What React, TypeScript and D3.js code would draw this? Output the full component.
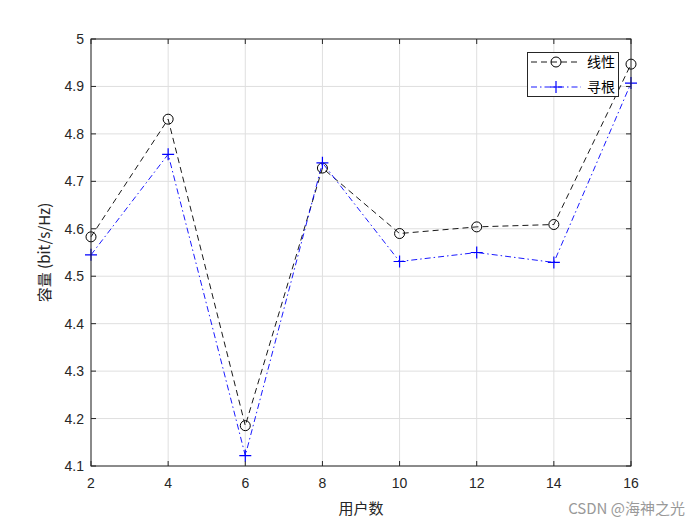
import React from "react";
import * as d3 from "d3";

const users = [2, 4, 6, 8, 10, 12, 14, 16];
const linearCap = [4.583, 4.831, 4.185, 4.728, 4.590, 4.604, 4.609, 4.947];
const rootCap = [4.545, 4.757, 4.122, 4.739, 4.531, 4.550, 4.529, 4.907];
const xTicks = [2, 4, 6, 8, 10, 12, 14, 16];
const yTicks = [4.1, 4.2, 4.3, 4.4, 4.5, 4.6, 4.7, 4.8, 4.9, 5];
const seriesNames = ["线性", "寻根"];
const xLabel = "用户数";
const yLabel = "容量 (bit/s/Hz)";
const watermark = "CSDN @海神之光";

const W = 700, H = 525;
const L = 91, R = 631, T = 39, B = 466;

export default function App() {
  const x = d3.scaleLinear().domain([2, 16]).range([L, R]);
  const y = d3.scaleLinear().domain([4.1, 5]).range([B, T]);
  const line = d3.line<number>().x((_, i) => x(users[i])).y((d) => y(d));
  const font = "Helvetica, Arial, 'Liberation Sans', sans-serif";
  const cjk = "'Noto Sans CJK SC', sans-serif";
  const tl = 5;
  return (
    <svg width={W} height={H} style={{ position: "absolute", left: 0, top: 0, background: "#fff" }}>
      <rect x={0} y={0} width={W} height={H} fill="#fff" />
      <rect x={L} y={T} width={R - L} height={B - T} fill="#fff" />
      {/* grid */}
      {xTicks.map((t) => (
        <line key={"gx" + t} x1={x(t)} x2={x(t)} y1={T} y2={B} stroke="#dfdfdf" strokeWidth={1} />
      ))}
      {yTicks.map((t) => (
        <line key={"gy" + t} x1={L} x2={R} y1={y(t)} y2={y(t)} stroke="#dfdfdf" strokeWidth={1} />
      ))}
      {/* ticks */}
      {xTicks.map((t) => (
        <g key={"tx" + t}>
          <line x1={x(t)} x2={x(t)} y1={B} y2={B - tl} stroke="#262626" />
          <line x1={x(t)} x2={x(t)} y1={T} y2={T + tl} stroke="#262626" />
          <text x={x(t)} y={B + 22} textAnchor="middle" fontSize={14} fontFamily={font} fill="#262626">{t}</text>
        </g>
      ))}
      {yTicks.map((t) => (
        <g key={"ty" + t}>
          <line x1={L} x2={L + tl} y1={y(t)} y2={y(t)} stroke="#262626" />
          <line x1={R} x2={R - tl} y1={y(t)} y2={y(t)} stroke="#262626" />
          <text x={L - 7} y={y(t) + 5} textAnchor="end" fontSize={14} fontFamily={font} fill="#262626">{d3.format(t === 5 ? "d" : ".1f")(t)}</text>
        </g>
      ))}
      {/* series */}
      <path d={line(linearCap) || ""} fill="none" stroke="#000" strokeWidth={0.9} strokeDasharray="6,4" />
      <path d={line(rootCap) || ""} fill="none" stroke="#0000ff" strokeWidth={0.9} strokeDasharray="6,3,1.5,3" />
      {linearCap.map((v, i) => (
        <circle key={"c" + i} cx={x(users[i])} cy={y(v)} r={5} fill="none" stroke="#000" strokeWidth={1} />
      ))}
      {rootCap.map((v, i) => (
        <path key={"p" + i} d={`M${x(users[i]) - 6},${y(v)}H${x(users[i]) + 6}M${x(users[i])},${y(v) - 6}V${y(v) + 6}`} stroke="#0000ff" strokeWidth={1.2} />
      ))}
      {/* box */}
      <rect x={L} y={T} width={R - L} height={B - T} fill="none" stroke="#262626" strokeWidth={1} />
      {/* legend */}
      <g>
        <rect x={527.5} y={52.5} width={91} height={44} fill="#fff" stroke="#262626" strokeWidth={1} />
        <line x1={531} x2={581} y1={62} y2={62} stroke="#000" strokeDasharray="6,4" strokeWidth={0.9} />
        <circle cx={556} cy={62} r={5} fill="none" stroke="#000" />
        <text x={587} y={67} fontSize={14} fontFamily={cjk} fill="#000">{seriesNames[0]}</text>
        <line x1={531} x2={581} y1={87} y2={87} stroke="#0000ff" strokeDasharray="6,3,1.5,3" strokeWidth={0.9} />
        <path d="M550,87H562M556,81V93" stroke="#0000ff" strokeWidth={1.2} />
        <text x={587} y={92} fontSize={14} fontFamily={cjk} fill="#000">{seriesNames[1]}</text>
      </g>
      {/* labels */}
      <text x={(L + R) / 2} y={514} textAnchor="middle" fontSize={15} fontFamily={cjk} fill="#262626">{xLabel}</text>
      <text transform={`translate(50,${(T + B) / 2}) rotate(-90)`} textAnchor="middle" fontSize={15} fontFamily={cjk} fill="#262626">{yLabel}</text>
      <text x={685} y={514} textAnchor="end" fontSize={15} fontFamily={cjk} fill="#999">{watermark}</text>
    </svg>
  );
}
